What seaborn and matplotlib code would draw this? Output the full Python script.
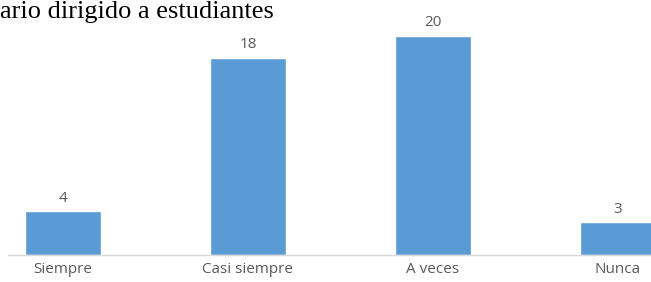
import matplotlib
matplotlib.use("Agg")
import matplotlib.pyplot as plt
import seaborn as sns
import pandas as pd

categorias = ["Siempre", "Casi siempre", "A veces", "Nunca"]
valores = [4, 18, 20, 3]
titulo = "ario dirigido a estudiantes"

sns.set_style("white")
plt.rcParams['font.family'] = ['Open Sans', 'DejaVu Sans']

df = pd.DataFrame({"respuesta": categorias, "frecuencia": valores})

fig = plt.figure(figsize=(6.51, 2.82), dpi=100)
ax = fig.add_axes([8 / 651, 27 / 282, 643 / 651, 241 / 282])

sns.barplot(data=df, x="respuesta", y="frecuencia", color="#5B9BD5",
            saturation=1, width=0.41, ax=ax)

ax.set_xlim(-0.298, 3.18)
ax.set_ylim(0, 22)

# etiquetas de datos sobre las barras
ax.bar_label(ax.containers[0], labels=[str(v) for v in valores],
             padding=4, fontsize=11, color="#595959")

for s in ["top", "right", "left"]:
    ax.spines[s].set_visible(False)
ax.spines["bottom"].set_color("#D9D9D9")
ax.spines["bottom"].set_linewidth(1)

ax.set_yticks([])
ax.set_xlabel("")
ax.set_ylabel("")
ax.tick_params(axis="x", length=0, pad=5, labelsize=11, labelcolor="#595959")

fig.text(0.0, 0.995, titulo, family="Liberation Serif",
         fontsize=19, color="black", va="top", ha="left")

fig.savefig("out.png", dpi=100)
